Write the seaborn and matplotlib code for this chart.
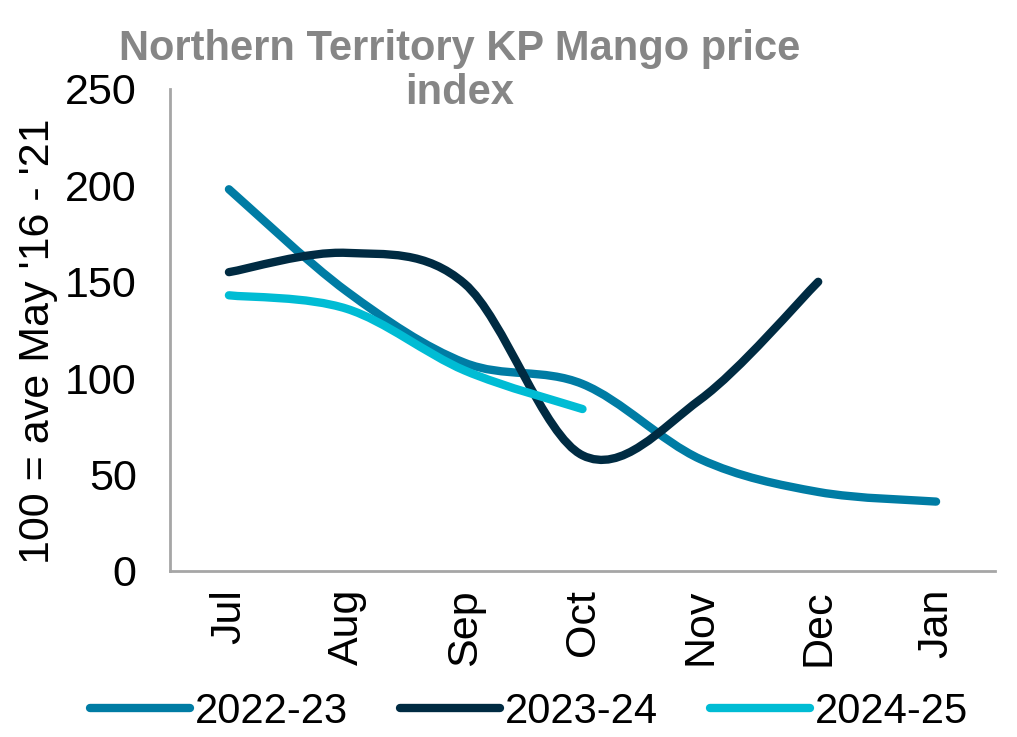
import numpy as np
import matplotlib
matplotlib.use("Agg")
import matplotlib.pyplot as plt
from matplotlib.path import Path
from matplotlib.patches import PathPatch
from matplotlib.lines import Line2D
import pandas as pd
import seaborn as sns

months = ["Jul", "Aug", "Sep", "Oct", "Nov", "Dec", "Jan"]
seasons = ["2022-23", "2023-24", "2024-25"]
idx_2022_23 = [198, 145, 108, 97, 58, 41, 36]
idx_2023_24 = [155, 165, 149, 60, 89, 150]
idx_2024_25 = [143, 136, 104, 84]
colors = ["#007ca4", "#002b42", "#00bcd4"]

sns.set_theme(style="white")
plt.rcParams["font.family"] = ["Liberation Sans", "DejaVu Sans"]

rows = []
for s, vals in zip(seasons, [idx_2022_23, idx_2023_24, idx_2024_25]):
    for i, v in enumerate(vals):
        rows.append({"season": s, "pos": i, "value": v})
df = pd.DataFrame(rows)

fig = plt.figure(figsize=(10.17, 7.37), dpi=100)
ax = fig.add_axes([170 / 1017, 1 - 571 / 737, 825 / 1017, 482 / 737])

sns.lineplot(data=df, x="pos", y="value", hue="season", hue_order=seasons,
             palette=colors, ax=ax, legend=False, linewidth=6)


def smooth_path(xs, ys):
    # Excel-like smoothed line: cubic Bezier through the points
    p = np.column_stack([xs, ys]).astype(float)
    n = len(p)
    verts = [p[0]]
    codes = [Path.MOVETO]
    for i in range(n - 1):
        p0 = p[i - 1] if i > 0 else p[i]
        p3 = p[i + 2] if i + 2 < n else p[i + 1]
        c1 = p[i] + (p[i + 1] - p0) / 6.0
        c2 = p[i + 1] - (p3 - p[i]) / 6.0
        verts += [c1, c2, p[i + 1]]
        codes += [Path.CURVE4] * 3
    return Path(verts, codes)


for line, c in zip(list(ax.lines), colors):
    xs, ys = line.get_xdata(), line.get_ydata()
    line.set_visible(False)
    patch = PathPatch(smooth_path(xs, ys), fill=False, edgecolor=c, lw=6,
                      capstyle="round", joinstyle="round")
    ax.add_patch(patch)

ax.set_xlim(-0.5, 6.5)
ax.set_ylim(0, 250)
ax.set_yticks(range(0, 251, 50))
ax.set_xticks(range(len(months)))
ax.set_xticklabels(months, rotation=90)
ax.set_xticks(np.arange(-0.5, 7, 1), minor=True)
ax.tick_params(axis="x", which="major", length=0, pad=13, labelsize=31, labelcolor="black")
ax.tick_params(axis="x", which="minor", length=10, width=2, color="#a6a6a6", direction="out")
ax.tick_params(axis="y", length=10, width=2, color="#a6a6a6", direction="out", pad=14,
               labelsize=31, labelcolor="black")
for side in ["top", "right"]:
    ax.spines[side].set_visible(False)
for side in ["left", "bottom"]:
    ax.spines[side].set_color("#a6a6a6")
    ax.spines[side].set_linewidth(2)
ax.set_xlabel("")
ax.set_ylabel("")

title_kw = dict(ha="center", va="baseline", fontsize=30, fontweight="bold", color="#868686")
fig.text(460 / 1017, 1 - 60 / 737, "Northern Territory KP Mango price", **title_kw)
fig.text(460 / 1017, 1 - 104 / 737, "index", **title_kw)
fig.text(38 / 1017, 1 - 341 / 737, "100 = ave May '16 - '21", rotation=90,
         ha="center", va="center", fontsize=31, color="black")

handles = [Line2D([0], [0], color=c, lw=6, solid_capstyle="round") for c in colors]
fig.legend(handles, seasons, loc="center", bbox_to_anchor=(529 / 1017, 1 - 712 / 737),
           ncol=3, frameon=False, fontsize=30, handlelength=2.4, handletextpad=0.12,
           columnspacing=1.25, labelcolor="black")

fig.savefig("out.png", dpi=100)
